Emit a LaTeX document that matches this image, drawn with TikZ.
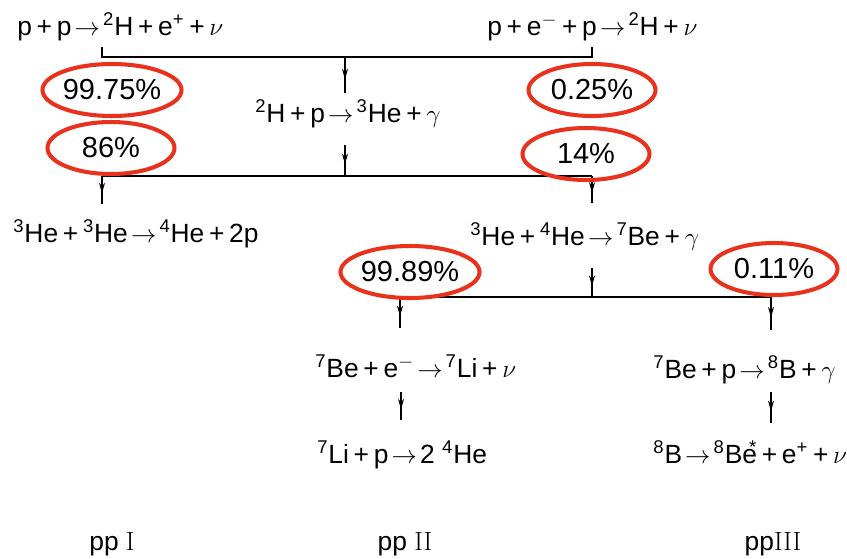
\documentclass[tikz,border=0pt]{standalone}
\usepackage{fontspec}
\setsansfont{Liberation Sans}
\usetikzlibrary{shapes.geometric,arrows.meta,decorations.markings}
\definecolor{ringred}{RGB}{232,50,30}
\newcommand{\iso}[2]{\textsuperscript{#1}#2}
\newcommand{\ra}{\hspace{0.12em}$\rightarrow$\hspace{0.12em}}
\newcommand{\pl}{\hspace{0.18em}+\hspace{0.18em}}
\tikzset{
  reac/.style={font=\sffamily\fontsize{15}{18}\selectfont, inner sep=0pt, anchor=base west},
  chain/.style={font=\sffamily\fontsize{15}{18}\selectfont, inner sep=0pt, anchor=base},
  pct/.style={ellipse, draw=ringred, line width=2.3pt, minimum width=2.54cm,
              minimum height=1.04cm, inner sep=0pt, font=\sffamily\fontsize{16.5}{18}\selectfont},
  link/.style={line width=0.9pt, line join=miter},
  flow/.style={link, postaction={decorate}, decoration={markings,
               mark=at position 0.62 with {\arrow{Stealth[length=6pt,width=3.4pt]}}}}
}
\begin{document}
\begin{tikzpicture}[x=0.02cm,y=-0.02cm]
  \useasboundingbox (0,0) rectangle (847,558);
  % reactions
  \node[reac] (pp)   at (17,35)   {p\pl p\ra\iso{2}{H}\pl e\textsuperscript{+}\pl$\nu$};
  \node[reac] (pep)  at (487,35)  {p\pl e\textsuperscript{$-$}\pl p\ra\iso{2}{H}\pl$\nu$};
  \node[reac] (dp)   at (255,122) {\iso{2}{H}\pl p\ra\iso{3}{He}\pl$\gamma$};
  \node[reac] (hehe) at (13,242)  {\iso{3}{He}\pl\iso{3}{He}\ra\iso{4}{He}\pl 2p};
  \node[reac] (hea)  at (470,245) {\iso{3}{He}\pl\iso{4}{He}\ra\iso{7}{Be}\pl$\gamma$};
  \node[reac] (bee)  at (315,377) {\iso{7}{Be}\pl e\textsuperscript{$-$}\ra\iso{7}{Li}\pl$\nu$};
  \node[reac] (lip)  at (317,463) {\iso{7}{Li}\pl p\ra 2 \iso{4}{He}};
  \node[reac] (bep)  at (653,378) {\iso{7}{Be}\pl p\ra\iso{8}{B}\pl$\gamma$};
  \node[reac] (bdec) at (653,463) {\iso{8}{B}\ra\iso{8}{Be}\llap{\textsuperscript{*}}\pl e\textsuperscript{+}\pl$\nu$};
  % chain names
  \node[chain] (ppI)   at (112,550) {pp \textrm{I}};
  \node[chain] (ppII)  at (405,550) {pp \textrm{II}};
  \node[chain] (ppIII) at (773,550) {pp\textrm{III}};
  % branch points
  \coordinate (t1) at (102,47);  \coordinate (t2) at (592,47);
  \coordinate (j1) at (102,57);  \coordinate (j2) at (592,57);  \coordinate (j3) at (345,57);
  \coordinate (d1) at (345,93);  \coordinate (d2) at (345,145);
  \coordinate (k1) at (102,176); \coordinate (k2) at (592,176); \coordinate (k3) at (345,176);
  \coordinate (e1) at (102,204); \coordinate (e2) at (592,203);
  \coordinate (f1) at (592,268);
  \coordinate (m1) at (400,297); \coordinate (m2) at (771,297); \coordinate (m3) at (592,297);
  \coordinate (g1) at (400,328); \coordinate (g2) at (771,330);
  \coordinate (h1) at (401,392); \coordinate (h2) at (401,420);
  \coordinate (h3) at (771,392); \coordinate (h4) at (771,423);
  \draw[link] (t1) -- (j1) -- (j2) -- (t2);
  \draw[flow] (j3) -- (d1);
  \draw[flow] (d2) -- (k3);
  \draw[link] (k1) -- (k2);
  \draw[flow] (k1) -- (e1);
  \draw[flow] (k2) -- (e2);
  \draw[flow] (f1) -- (m3);
  \draw[link] (m1) -- (m2);
  \draw[flow] (m1) -- (g1);
  \draw[flow] (m2) -- (g2);
  \draw[flow] (h1) -- (h2);
  \draw[flow] (h3) -- (h4);
  % branching ratios
  \foreach \n/\p/\t in {1/{(112,90)}/99.75, 2/{(111,148)}/86, 3/{(592,90)}/0.25,
                        4/{(586,154)}/14, 5/{(410,272)}/99.89, 6/{(774,269)}/0.11}{
    \node[pct] (b\n) at \p {\t\%};
  }
\end{tikzpicture}
\end{document}
